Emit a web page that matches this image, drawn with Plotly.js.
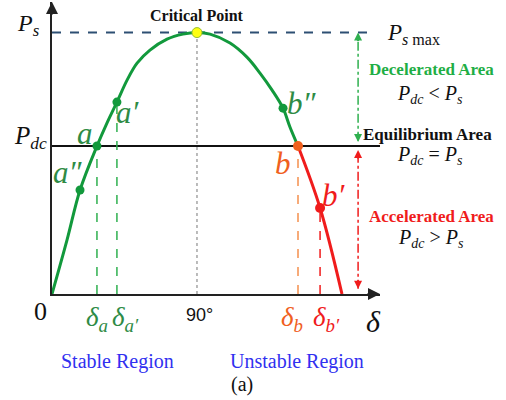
<!DOCTYPE html>
<html><head><meta charset="utf-8">
<script src="https://cdn.plot.ly/plotly-3.0.1.min.js"></script>
<style>html,body{margin:0;padding:0;background:#fff}#chart{width:506px;height:400px}</style>
</head><body><div id="chart"></div>
<script>
// ---- data (δ in degrees, P in units of Ps max) ----
const curveDeg = [0, 9.3, 17.4, 27.9, 34.1, 40.3, 46.6, 52.8, 60.8, 71.4, 81.3, 90, 98.1, 110.5, 121.0, 129.1, 136.6, 143.4, 147.7, 152.7];
const curvePs  = [0, 0.206, 0.398, 0.566, 0.654, 0.734, 0.818, 0.883, 0.933, 0.975, 0.994, 1, 0.994, 0.960, 0.906, 0.845, 0.780, 0.711, 0.639, 0.566];
const unstableDeg = [152.7, 166.4, 180];
const unstablePs  = [0.566, 0.329, 0];
const PsMax = 1;
const Pdc = 0.566;
const criticalDeg = 90;
const pointNames = ['a″', 'a', 'a′', 'b″', 'b', 'b′'];
const pointDeg = [17.4, 27.9, 40.3, 143.4, 152.7, 166.4];
const pointPs  = [0.398, 0.566, 0.734, 0.711, 0.566, 0.329];
const tickDeg = [0, 27.9, 40.3, 90, 152.7, 166.4];
const tickLabels = ['0', 'δ<sub>a</sub>', 'δ<sub>a′</sub>', '90°', 'δ<sub>b</sub>', 'δ<sub>b′</sub>'];
const areaDeg = 190;

// ---- styling ----
const GREEN = '#12993c', RED = '#f01c1c', ORANGE = '#f0601e', DKGREEN = '#2e8b45', BLUE = '#3030f0';
const SERIF = 'Liberation Serif';
const L = 52, R = 380, B = 294, T = 2; // plot pixel box
const xMax = 203.6, yMax = 1.117;
const px = v => (v - L) / (R - L);
const py = v => (B - v) / (B - T);

const traces = [
  {x: curveDeg, y: curvePs, mode: 'lines', line: {color: GREEN, width: 3, shape: 'spline'}, hoverinfo: 'skip'},
  {x: unstableDeg, y: unstablePs, mode: 'lines', line: {color: RED, width: 3, shape: 'spline'}, hoverinfo: 'skip'},
  {x: [pointDeg[0], pointDeg[1], pointDeg[2], pointDeg[3]], y: [pointPs[0], pointPs[1], pointPs[2], pointPs[3]], mode: 'markers', marker: {color: GREEN, size: 9}},
  {x: [pointDeg[4]], y: [pointPs[4]], mode: 'markers', marker: {color: ORANGE, size: 10}},
  {x: [pointDeg[5]], y: [pointPs[5]], mode: 'markers', marker: {color: RED, size: 10}},
  {x: [criticalDeg], y: [PsMax], mode: 'markers', marker: {color: '#ffff10', size: 10, line: {color: '#9abf30', width: 1}}, cliponaxis: false}
];

const shapes = [
  {type: 'line', x0: 0, x1: 200.5, y0: PsMax, y1: PsMax, line: {color: '#2d4f73', width: 2, dash: 'dash'}, layer: 'below'},
  {type: 'line', x0: 0, x1: xMax, y0: Pdc, y1: Pdc, line: {color: '#111', width: 2}, layer: 'below'},
  {type: 'line', x0: criticalDeg, x1: criticalDeg, y0: 0, y1: PsMax, line: {color: '#777', width: 1, dash: 'dot'}, layer: 'below'},
  {type: 'line', x0: pointDeg[1], x1: pointDeg[1], y0: 0, y1: pointPs[1], line: {color: '#2fb04f', width: 1.5, dash: 'dash'}, layer: 'below'},
  {type: 'line', x0: pointDeg[2], x1: pointDeg[2], y0: 0, y1: pointPs[2], line: {color: '#2fb04f', width: 1.5, dash: 'dash'}, layer: 'below'},
  {type: 'line', x0: pointDeg[4], x1: pointDeg[4], y0: 0, y1: pointPs[4], line: {color: '#f5904e', width: 1.5, dash: 'dash'}, layer: 'below'},
  {type: 'line', x0: pointDeg[5], x1: pointDeg[5], y0: 0, y1: pointPs[5], line: {color: RED, width: 1.5, dash: 'dash'}, layer: 'below'},
  {type: 'line', x0: areaDeg, x1: areaDeg, y0: Pdc + 0.02, y1: PsMax - 0.01, line: {color: '#2fb04f', width: 1.5, dash: 'dashdot'}, layer: 'below'},
  {type: 'line', x0: areaDeg, x1: areaDeg, y0: 0.02, y1: Pdc - 0.02, line: {color: RED, width: 1.5, dash: 'dashdot'}, layer: 'below'}
];

const ann = [];
function arrow(x, y, ax, ay, color, size) {
  ann.push({x: x, y: y, xref: 'x', yref: 'y', ax: ax, ay: ay, text: '', showarrow: true,
    arrowhead: 2, arrowsize: size || 1, arrowwidth: 2, arrowcolor: color});
}
// axis arrows
arrow(0, yMax, 0, 14, '#222', 1.2);
arrow(xMax, 0, -14, 0, '#222', 1.2);
// area arrows
arrow(areaDeg, PsMax, 0, 10, '#2fb04f', 0.8);
arrow(areaDeg, Pdc + 0.015, 0, -10, '#2fb04f', 0.8);
arrow(areaDeg, Pdc - 0.015, 0, 10, RED, 0.8);
arrow(areaDeg, 0.02, 0, -10, RED, 0.8);

function txt(x, y, text, size, color, extra) {
  ann.push(Object.assign({x: px(x), y: py(y), xref: 'paper', yref: 'paper', text: text, showarrow: false,
    xanchor: 'center', yanchor: 'middle', font: {family: SERIF, size: size, color: color}}, extra || {}));
}
// tick labels on the δ axis
const tickColors = ['#111', DKGREEN, DKGREEN, '#111', ORANGE, RED];
const tickSize = [26, 27, 27, 18, 27, 27];
const tickShiftX = [-12, 0, 9, 3, -6, 6];
const tickShiftY = [-17, -25, -25, -21, -25, -25];
tickDeg.forEach((d, i) => {
  const t = i === 0 || i === 3 ? tickLabels[i] : '<i>' + tickLabels[i] + '</i>';
  const fam = i === 3 ? 'Liberation Sans' : SERIF;
  ann.push({x: d, y: 0, xref: 'x', yref: 'y', text: t, showarrow: false, xshift: tickShiftX[i], yshift: tickShiftY[i],
    xanchor: 'center', yanchor: 'middle', font: {family: fam, size: tickSize[i], color: tickColors[i]}});
});
// point labels
const ptColors = [DKGREEN, DKGREEN, DKGREEN, DKGREEN, ORANGE, RED];
const ptShiftX = [-12, -12, 11, 19, -15, 14];
const ptShiftY = [17, 13, -10, 5, -17, 12];
pointNames.forEach((n, i) => {
  ann.push({x: pointDeg[i], y: pointPs[i], xref: 'x', yref: 'y', text: '<i>' + n + '</i>', showarrow: false,
    xshift: ptShiftX[i], yshift: ptShiftY[i], xanchor: 'center', yanchor: 'middle',
    font: {family: SERIF, size: 31, color: ptColors[i]}});
});
txt(373, 321, '<i>δ</i>', 30, '#111');
txt(29, 25, '<i>P<sub>s</sub></i>', 24, '#111');
txt(30, 137, '<i>P<sub>dc</sub></i>', 25, '#111');
txt(197, 16, '<b>Critical Point</b>', 16, '#111');
txt(413, 34, '<i>P</i><sub><i>s</i> max</sub>', 23, '#111');
txt(431, 69, '<b>Decelerated Area</b>', 17, '#1fae45');
txt(430, 94, '<i>P<sub>dc</sub></i> < <i>P<sub>s</sub></i>', 20, '#111');
txt(428, 134, '<b>Equilibrium Area</b>', 17, '#111');
txt(430, 155, '<i>P<sub>dc</sub></i> = <i>P<sub>s</sub></i>', 20, '#111');
txt(431, 216, '<b>Accelerated Area</b>', 17, '#f01c1c');
txt(431, 238, '<i>P<sub>dc</sub></i> > <i>P<sub>s</sub></i>', 20, '#111');
txt(117, 361, 'Stable Region', 20, BLUE);
txt(297, 361, 'Unstable Region', 20, BLUE);
txt(242, 384, '(a)', 20, '#111');

const layout = {
  width: 506, height: 400, showlegend: false,
  margin: {l: L, r: 506 - R, t: T, b: 400 - B, pad: 0},
  paper_bgcolor: '#fff', plot_bgcolor: '#fff',
  font: {family: SERIF},
  xaxis: {range: [0, xMax], showgrid: false, zeroline: false, showticklabels: false, ticks: '',
    showline: true, linecolor: '#222', linewidth: 2, fixedrange: true},
  yaxis: {range: [0, yMax], showgrid: false, zeroline: false, showticklabels: false, ticks: '',
    showline: true, linecolor: '#222', linewidth: 2, fixedrange: true},
  shapes: shapes, annotations: ann
};
Plotly.newPlot('chart', traces, layout, {displayModeBar: false, staticPlot: true});
</script></body></html>
